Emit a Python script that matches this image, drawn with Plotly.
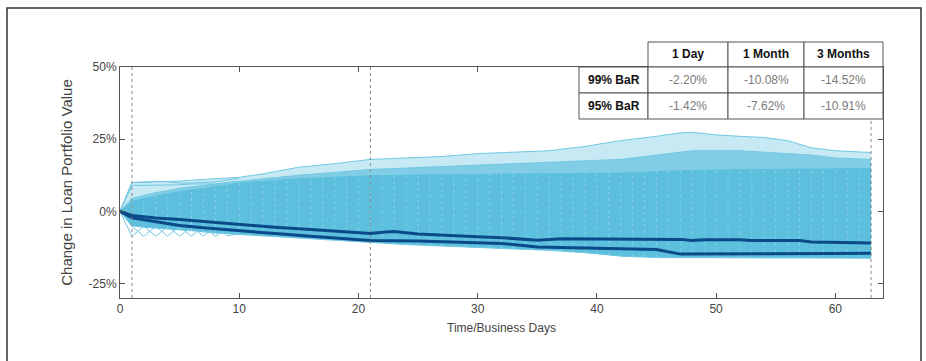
import numpy as np
import plotly.graph_objects as go

# ---------------- data ----------------
horizon_days = [1, 21, 63]
col_labels = ["1 Day", "1 Month", "3 Months"]
row_labels = ["99% BaR", "95% BaR"]
bar99_table = ["-2.20%", "-10.08%", "-14.52%"]
bar95_table = ["-1.42%", "-7.62%", "-10.91%"]

# envelope of the simulated paths (percent)
env_days = [0, 1, 2, 3, 4, 5, 6, 8, 10, 12, 15, 18, 21, 24, 27, 30, 33, 36, 39,
            42, 45, 47, 48, 50, 52, 54, 56, 58, 60, 63]
outer_upper = [0, 10.0, 10.2, 10.3, 10.3, 10.5, 10.8, 11.2, 11.8, 13.0, 15.3, 16.5,
               18.0, 18.5, 19.0, 20.0, 20.5, 21.0, 22.5, 24.5, 26.0, 27.2, 27.4,
               26.5, 26.0, 25.6, 24.5, 22.0, 21.0, 20.4]
mid_upper = [0, 4.5, 5.5, 6.5, 7.2, 8.0, 8.5, 9.5, 10.5, 11.3, 12.5, 13.5, 14.5,
             15.0, 15.5, 16.0, 16.5, 17.0, 17.3, 18.0, 19.5, 20.5, 21.0, 21.0,
             21.0, 20.5, 20.0, 19.5, 18.5, 18.0]
core_upper = [0, 3.6, 4.6, 5.5, 6.3, 7.0, 7.6, 8.8, 10.0, 10.6, 11.5, 12.0, 12.5,
              12.7, 12.9, 13.0, 13.1, 13.2, 13.4, 13.5, 14.0, 14.3, 14.4, 14.5,
              14.6, 14.7, 14.8, 14.9, 15.0, 15.0]
lower_env = [0, -5.0, -5.5, -5.8, -6.0, -6.3, -6.7, -7.5, -8.0, -8.6, -9.4, -10.0,
             -11.0, -11.5, -12.0, -12.5, -13.0, -13.5, -14.3, -15.5, -16.0, -16.0,
             -16.2, -16.0, -16.2, -16.0, -16.2, -16.0, -16.0, -16.2]

# zig-zag outlier paths near the start
zig_days = [0, 1, 2, 3, 4, 5, 6, 7, 8, 9, 10]
zig_a = [0, -8.6, -5.2, -8.6, -5.2, -8.6, -5.2, -8.6, -5.2, -8.4, -7.8]
zig_b = [0, -5.2, -8.6, -5.2, -8.6, -5.2, -8.6, -5.2, -8.6, -6.0, -8.0]
# flat upper outliers near the start
flat_days = [0, 1, 2, 3, 4, 5, 6, 8, 10]
flat_a = [0, 10.0, 10.0, 10.3, 10.3, 9.8, 9.8, 10.2, 11.5]
flat_b = [0, 9.0, 9.0, 9.0, 9.2, 9.2, 9.5, 9.5, 10.5]

# BaR percentile paths
bar95_days = [0, 1, 2, 3, 5, 7, 10, 13, 16, 19, 21, 22, 23, 25, 27, 30, 32, 35,
              37, 40, 43, 47, 48, 49, 52, 53, 57, 58, 63]
bar95_vals = [0, -1.42, -1.9, -2.3, -2.8, -3.5, -4.6, -5.5, -6.3, -7.1, -7.62,
              -7.2, -7.0, -7.8, -8.3, -8.8, -9.1, -10.0, -9.5, -9.6, -9.7, -9.7,
              -10.1, -9.8, -9.8, -10.1, -10.1, -10.6, -10.91]
bar99_days = [0, 1, 2, 3, 5, 7, 10, 13, 16, 19, 21, 25, 30, 32, 35, 37, 40, 43,
              45, 47, 50, 55, 59, 60, 63]
bar99_vals = [0, -2.20, -2.9, -3.5, -4.9, -5.7, -6.8, -7.7, -8.6, -9.4, -10.08,
              -10.3, -10.8, -11.1, -12.3, -12.6, -12.8, -13.0, -13.2, -14.8,
              -14.8, -14.8, -14.8, -14.6, -14.52]

x_ticks = [0, 10, 20, 30, 40, 50, 60]
y_ticks = [-25, 0, 25, 50]
y_tick_text = ["-25%", "0%", "25%", "50%"]

# ---------------- styling ----------------
FAN = "#5bbfdd"
FAN_LINE = "#72c8e4"
DARK = "#0b4a88"
FONT = "Liberation Sans Narrow, Arial Narrow, Liberation Sans, Arial"

W, H = 926, 361
L, R, T, B = 120, 883, 67, 298  # plot area in pixels


def px(x):
    return (x - L) / (R - L)


def py(y):
    return (B - y) / (B - T)


fig = go.Figure()


def band(xs, lo, hi, color):
    fig.add_trace(go.Scatter(x=xs, y=lo, mode="lines", line=dict(width=0),
                             hoverinfo="skip", showlegend=False))
    fig.add_trace(go.Scatter(x=xs, y=hi, mode="lines", line=dict(width=0),
                             fill="tonexty", fillcolor=color,
                             hoverinfo="skip", showlegend=False))


band(env_days, lower_env, outer_upper, "rgba(91,191,221,0.35)")
band(env_days, lower_env, mid_upper, "rgba(91,191,221,0.65)")
band(env_days, lower_env, core_upper, FAN)

# faint white dotted texture at each business day
tex_x, tex_y = [], []
for d in range(1, 63):
    lo = float(np.interp(d, env_days, lower_env))
    hi = float(np.interp(d, env_days, core_upper))
    tex_x += [d, d, None]
    tex_y += [lo, hi, None]
fig.add_trace(go.Scatter(x=tex_x, y=tex_y, mode="lines",
                         line=dict(color="rgba(255,255,255,0.28)", width=1, dash="dot"),
                         hoverinfo="skip", showlegend=False))

for ys, xs in [(outer_upper, env_days), (mid_upper, env_days), (lower_env, env_days),
               (zig_a, zig_days), (zig_b, zig_days), (flat_a, flat_days), (flat_b, flat_days)]:
    fig.add_trace(go.Scatter(x=xs, y=ys, mode="lines",
                             line=dict(color=FAN_LINE, width=1),
                             hoverinfo="skip", showlegend=False))

fig.add_trace(go.Scatter(x=bar95_days, y=bar95_vals, mode="lines",
                         line=dict(color=DARK, width=3), showlegend=False, name="95% BaR"))
fig.add_trace(go.Scatter(x=bar99_days, y=bar99_vals, mode="lines",
                         line=dict(color=DARK, width=3), showlegend=False, name="99% BaR"))

shapes = []
for d in horizon_days:
    shapes.append(dict(type="line", xref="x", yref="paper", x0=d, x1=d, y0=0, y1=1,
                       line=dict(color="#8a8a8a", width=1, dash="dot"), layer="above"))

# outer frame
shapes.append(dict(type="rect", xref="paper", yref="paper",
                   x0=px(7), x1=px(921), y0=py(380), y1=py(8),
                   line=dict(color="#333333", width=1.5), fillcolor="rgba(0,0,0,0)"))

# table
col_edges = [648, 728, 804, 883]
label_x = (579, 648)
row_edges = [42, 67, 93, 119]
annotations = []
TBL_LINE = dict(color="#555555", width=1)


def cell_text(xc, yc, text, color):
    annotations.append(dict(xref="paper", yref="paper", x=px(xc), y=py(yc),
                            xanchor="center", yanchor="middle",
                            text=text, showarrow=False,
                            font=dict(family=FONT, size=12, color=color)))


for j, lab in enumerate(col_labels):
    shapes.append(dict(type="rect", xref="paper", yref="paper",
                       x0=px(col_edges[j]), x1=px(col_edges[j + 1]),
                       y0=py(row_edges[1]), y1=py(row_edges[0]),
                       line=TBL_LINE, fillcolor="white", layer="above"))
    cell_text((col_edges[j] + col_edges[j + 1]) / 2, (row_edges[0] + row_edges[1]) / 2,
              "<b>%s</b>" % lab, "#111111")
rows = [bar99_table, bar95_table]
for i, lab in enumerate(row_labels):
    y0p, y1p = row_edges[i + 1], row_edges[i + 2]
    shapes.append(dict(type="rect", xref="paper", yref="paper",
                       x0=px(label_x[0]), x1=px(label_x[1]), y0=py(y1p), y1=py(y0p),
                       line=TBL_LINE, fillcolor="white", layer="above"))
    cell_text((label_x[0] + label_x[1]) / 2, (y0p + y1p) / 2, "<b>%s</b>" % lab, "#111111")
    for j, v in enumerate(rows[i]):
        shapes.append(dict(type="rect", xref="paper", yref="paper",
                           x0=px(col_edges[j]), x1=px(col_edges[j + 1]),
                           y0=py(y1p), y1=py(y0p),
                           line=TBL_LINE, fillcolor="white", layer="above"))
        cell_text((col_edges[j] + col_edges[j + 1]) / 2, (y0p + y1p) / 2, v, "#7a7a7a")

fig.update_layout(
    width=W, height=H,
    margin=dict(l=L, r=W - R, t=T, b=H - B, autoexpand=False),
    paper_bgcolor="white", plot_bgcolor="white",
    shapes=shapes, annotations=annotations,
    font=dict(family=FONT, size=12, color="#444444"),
    showlegend=False,
)
fig.update_xaxes(range=[0, 64], tickvals=x_ticks, ticks="inside", ticklen=5,
                 tickcolor="#555555", showgrid=False, zeroline=False,
                 showline=True, linecolor="#555555", linewidth=1, mirror="ticks",
                 title=dict(text="Time/Business Days", standoff=8,
                            font=dict(family=FONT, size=12, color="#444444")),
                 tickfont=dict(family=FONT, size=12, color="#444444"))
fig.update_yaxes(range=[-30, 50], tickvals=y_ticks, ticktext=y_tick_text,
                 ticks="inside", ticklen=5, tickcolor="#555555",
                 showgrid=False, zeroline=False,
                 showline=True, linecolor="#555555", linewidth=1, mirror="ticks",
                 title=dict(text="Change in Loan Portfolio Value", standoff=12,
                            font=dict(family=FONT, size=15, color="#444444")),
                 tickfont=dict(family=FONT, size=12, color="#444444"))

fig.write_html("out.html", config={"displayModeBar": False},
               post_script="document.body.style.margin='0px';")
